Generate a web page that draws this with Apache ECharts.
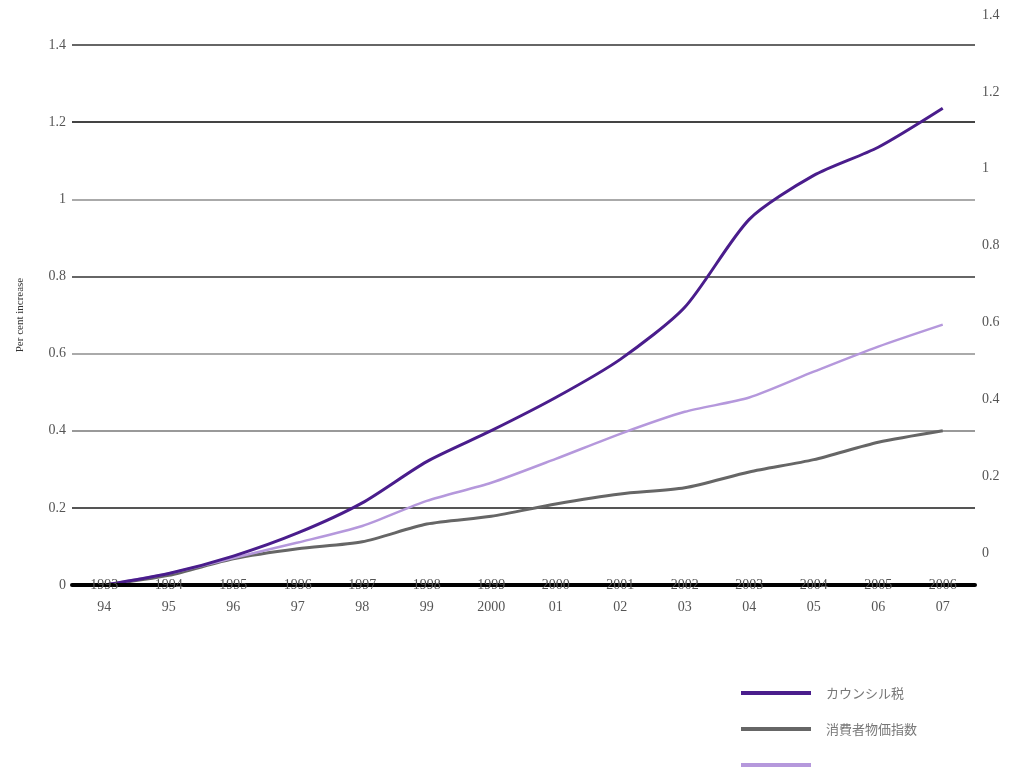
<!DOCTYPE html>
<html>
<head>
<meta charset="utf-8">
<script src="https://cdn.jsdelivr.net/npm/echarts@6/dist/echarts.min.js"></script>
<style>
  html, body { margin: 0; padding: 0; background: #fff; }
  #chart { width: 1019px; height: 773px; }
</style>
</head>
<body>
<div id="chart"></div>
<script>
// Financial-year categories: start year (upper row) and end year (lower row)
const startYears = ['1993','1994','1995','1996','1997','1998','1999','2000','2001','2002','2003','2004','2005','2006'];
const endYears   = ['94','95','96','97','98','99','2000','01','02','03','04','05','06','07'];

// Cumulative per cent increase since 1993-94
const councilTax = [0, 0.03, 0.075, 0.135, 0.213, 0.32, 0.40, 0.486, 0.585, 0.72, 0.948, 1.062, 1.135, 1.236];
const cpi        = [0, 0.025, 0.068, 0.094, 0.112, 0.158, 0.178, 0.21, 0.236, 0.252, 0.293, 0.325, 0.37, 0.40];
const thirdSeries = [0, 0.03, 0.07, 0.11, 0.153, 0.218, 0.265, 0.327, 0.392, 0.449, 0.486, 0.553, 0.618, 0.675];

const seriesNames = ['カウンシル税', '消費者物価指数', ' '];
const yTicks = [0, 0.2, 0.4, 0.6, 0.8, 1, 1.2, 1.4];

const serif = '"Liberation Serif", "DejaVu Serif", serif';
const cjk = '"Noto Sans CJK JP", sans-serif';

const chart = echarts.init(document.getElementById('chart'));
chart.setOption({
  animation: false,
  backgroundColor: '#ffffff',
  grid: [
    { left: 72, right: 44, top: 45, bottom: 188 },
    { left: 72, right: 44, top: 15, bottom: 220 }
  ],
  xAxis: [
    {
      type: 'category',
      gridIndex: 0,
      data: startYears,
      boundaryGap: true,
      axisLine: { lineStyle: { color: '#000', width: 4 } },
      axisTick: { alignWithLabel: true, length: 7, lineStyle: { color: '#222', width: 1.5 } },
      axisLabel: {
        margin: -11,
        interval: 0,
        formatter: (v, i) => '{a|' + v + '}\n{b|' + endYears[i] + '}',
        rich: {
          a: { fontFamily: serif, fontSize: 14, color: '#555', lineHeight: 22 },
          b: { fontFamily: serif, fontSize: 14, color: '#555', lineHeight: 22 }
        }
      },
      z: 5
    },
    { type: 'category', gridIndex: 1, data: startYears, show: false }
  ],
  yAxis: [
    {
      type: 'value',
      gridIndex: 0,
      min: 0, max: 1.4, interval: 0.2,
      name: 'Per cent increase',
      nameLocation: 'middle',
      nameGap: 46,
      nameTextStyle: { fontFamily: serif, fontSize: 11, color: '#333' },
      axisLine: { show: false },
      axisTick: { show: false },
      axisLabel: { fontFamily: serif, fontSize: 14, color: '#555', margin: 6 },
      splitLine: {
        lineStyle: {
          width: 2,
          color: ['#000', '#555', '#999', '#aaa', '#666', '#aaa', '#444', '#666']
        }
      }
    },
    {
      type: 'value',
      gridIndex: 1,
      position: 'right',
      min: yTicks[0], max: yTicks[yTicks.length - 1], interval: 0.2,
      axisLine: { show: false },
      axisTick: { show: false },
      splitLine: { show: false },
      axisLabel: { fontFamily: serif, fontSize: 14, color: '#555', margin: 7 }
    }
  ],
  legend: {
    orient: 'vertical',
    left: 741,
    top: 685,
    height: 120,
    padding: 0,
    itemWidth: 70,
    itemHeight: 4,
    itemGap: 20,
    icon: 'rect',
    data: seriesNames,
    textStyle: { fontFamily: cjk, fontSize: 13, color: '#777', lineHeight: 16, padding: [0, 0, 0, 10] }
  },
  series: [
    {
      name: seriesNames[0], type: 'line', data: councilTax,
      smooth: 0.25, symbol: 'none',
      lineStyle: { color: '#4a1d8c', width: 3 },
      itemStyle: { color: '#4a1d8c' }, z: 4
    },
    {
      name: seriesNames[1], type: 'line', data: cpi,
      smooth: 0.25, symbol: 'none',
      lineStyle: { color: '#666666', width: 3 },
      itemStyle: { color: '#666666' }, z: 2
    },
    {
      name: seriesNames[2], type: 'line', data: thirdSeries,
      smooth: 0.25, symbol: 'none',
      lineStyle: { color: '#b598dc', width: 2.5 },
      itemStyle: { color: '#b598dc' }, z: 3
    }
  ]
});
</script>
</body>
</html>
